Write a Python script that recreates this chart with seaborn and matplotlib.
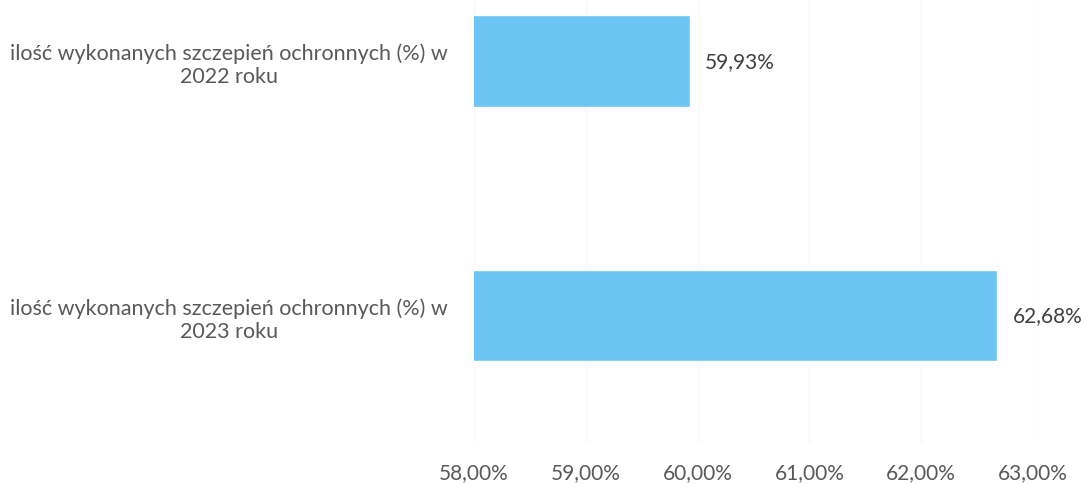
import matplotlib
matplotlib.use("Agg")
import matplotlib.pyplot as plt
import seaborn as sns
import pandas as pd
from matplotlib.ticker import FuncFormatter

categories = [
    "ilość wykonanych szczepień ochronnych (%) w\n2022 roku",
    "ilość wykonanych szczepień ochronnych (%) w\n2023 roku",
]
values = [59.93, 62.68]
x_ticks = [58, 59, 60, 61, 62, 63]

df = pd.DataFrame({"kategoria": categories, "wartosc": values})

sns.set_theme(style="white")
plt.rcParams["font.family"] = ["Lato", "DejaVu Sans"]

fig = plt.figure(figsize=(10.85, 4.85), dpi=100)
ax = fig.add_axes([474 / 1085, (485 - 444) / 485, (1033 - 474) / 1085, 444 / 485])

sns.barplot(data=df, x="wartosc", y="kategoria", orient="h", color="#6cc4f2",
            width=0.36, saturation=1, ax=ax)

ax.set_xlim(58, 63)
ax.set_ylim(1.5, -62 / 256)
ax.set_xticks(x_ticks)
ax.xaxis.set_major_formatter(FuncFormatter(lambda v, _: f"{v:.2f}%".replace(".", ",")))
ax.grid(axis="x", color="#f8f8f8", linewidth=1)
ax.set_axisbelow(True)
for s in ax.spines.values():
    s.set_visible(False)
ax.set_xlabel("")
ax.set_ylabel("")
ax.tick_params(axis="x", length=0, pad=14, labelsize=15, labelcolor="#595959")
ax.tick_params(axis="y", length=0, pad=19, labelsize=15.5, labelcolor="#595959")
for lbl in ax.get_yticklabels():
    lbl.set_multialignment("center")

for i, v in enumerate(values):
    ax.annotate(f"{v:.2f}%".replace(".", ","), xy=(v, i), xytext=(11, 0),
                textcoords="offset points", va="center", ha="left",
                fontsize=15, color="#404040")

fig.savefig("out.png", dpi=100)
